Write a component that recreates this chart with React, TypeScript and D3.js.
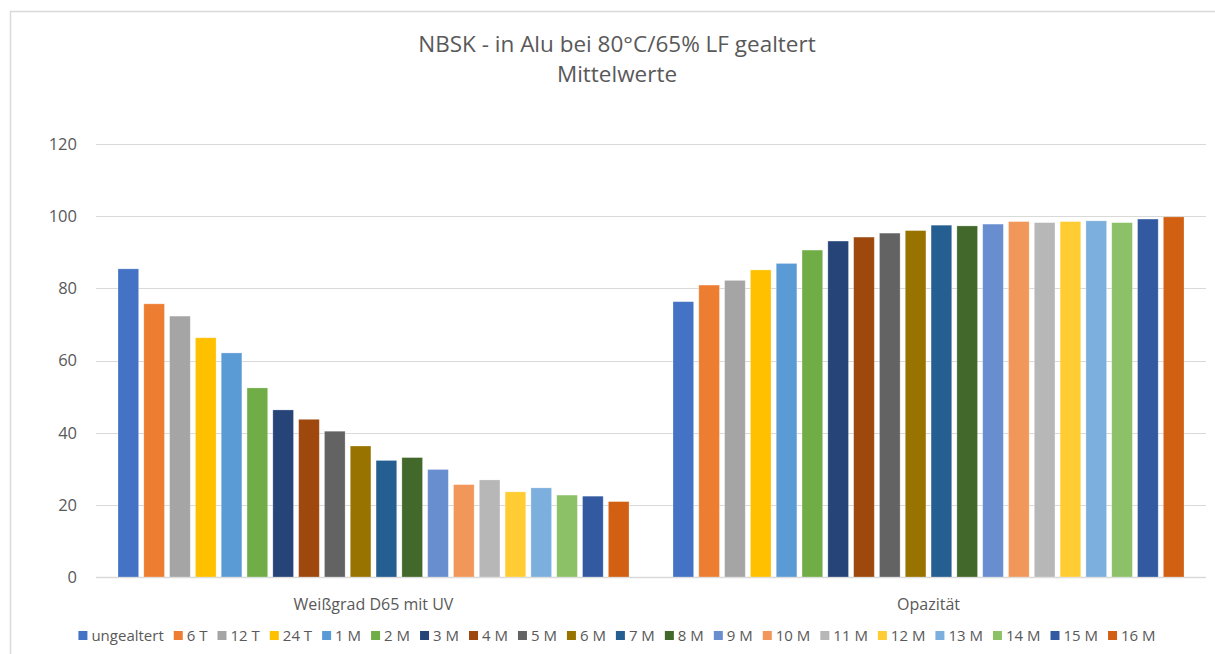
import React from "react";
import * as d3 from "d3";

const categories = ["Weißgrad D65 mit UV", "Opazität"];
const seriesNames = ["ungealtert", "6 T", "12 T", "24 T", "1 M", "2 M", "3 M", "4 M", "5 M", "6 M", "7 M", "8 M", "9 M", "10 M", "11 M", "12 M", "13 M", "14 M", "15 M", "16 M"];
const weissgrad = [85.4, 75.7, 72.3, 66.3, 62.1, 52.4, 46.3, 43.7, 40.4, 36.3, 32.3, 33.1, 29.8, 25.6, 26.9, 23.6, 24.7, 22.7, 22.4, 20.9];
const opazitaet = [76.3, 80.9, 82.2, 85.1, 86.9, 90.6, 93.1, 94.2, 95.3, 96.0, 97.5, 97.3, 97.8, 98.5, 98.2, 98.5, 98.7, 98.2, 99.2, 99.8];
const seriesColors = ["#4472C4", "#ED7D31", "#A5A5A5", "#FFC000", "#5B9BD5", "#70AD47", "#264478", "#9E480E", "#636363", "#997300", "#255E91", "#43682B", "#698ED0", "#F1975A", "#B7B7B7", "#FFCD33", "#7CAFDD", "#8CC168", "#335AA1", "#D26012"];
const yTicks = [0, 20, 40, 60, 80, 100, 120];
const titleLines = ["NBSK - in Alu bei 80°C/65% LF gealtert", "Mittelwerte"];

const FONT = "'Open Sans', sans-serif";
const TEXT = "#595959";
const GRID = "#d9d9d9";

function measure(text: string, size: number): number {
  const c = document.createElement("canvas");
  const ctx = c.getContext("2d");
  if (!ctx) return text.length * size * 0.5;
  ctx.font = `${size}px 'Open Sans'`;
  return ctx.measureText(text).width;
}

export default function App() {
  const W = 1215, H = 654;
  const values = [weissgrad, opazitaet];
  const y = d3.scaleLinear().domain([0, 120]).range([577, 144]);
  const x0 = d3.scaleBand<string>().domain(categories).range([96, 1206]).padding(0);
  const bw0 = x0.bandwidth();
  const x1 = d3.scaleBand<string>().domain(seriesNames).range([22, bw0 - 22]).paddingInner(0.2).paddingOuter(0);

  const legendSize = 15;
  const markerSize = 9;
  const items = seriesNames.map((s) => ({ s, w: markerSize + 4 + measure(s, legendSize) }));
  const itemGap = 10;
  const total = d3.sum(items, (d) => d.w) + itemGap * (items.length - 1);
  const chartCenter = 617;
  let cx = chartCenter - total / 2;
  const legendPos = items.map((it) => {
    const p = cx;
    cx += it.w + itemGap;
    return p;
  });

  return (
    <div style={{ position: "absolute", left: 0, top: 0 }}>
      <svg width={W} height={H} style={{ display: "block", background: "#fff" }}>
        <rect x={10.5} y={11.5} width={W} height={H} fill="#fff" stroke={GRID} strokeWidth={1.5} />
        {titleLines.map((t, i) => (
          <text key={t} x={chartCenter} y={52 + i * 30} textAnchor="middle" fontFamily={FONT} fontSize={22.5} fill={TEXT}>
            {t}
          </text>
        ))}
        {yTicks.map((t) => (
          <g key={t}>
            <line x1={96} x2={1206} y1={Math.round(y(t)) + 0.5} y2={Math.round(y(t)) + 0.5} stroke={GRID} strokeWidth={t === 0 ? 1.5 : 1} />
            <text x={77} y={y(t)} dy="0.36em" textAnchor="end" fontFamily={FONT} fontSize={16.5} fill={TEXT}>
              {t}
            </text>
          </g>
        ))}
        {categories.map((c, ci) => (
          <g key={c} transform={`translate(${x0(c)},0)`}>
            {seriesNames.map((s, si) => (
              <rect
                key={s}
                x={x1(s)}
                y={y(values[ci][si])}
                width={x1.bandwidth()}
                height={y(0) - y(values[ci][si])}
                fill={seriesColors[si]}
                stroke="#fff"
                strokeOpacity={0.35}
                strokeWidth={0.75}
              />
            ))}
            <text x={bw0 / 2} y={610} textAnchor="middle" fontFamily={FONT} fontSize={16} fill={TEXT}>
              {c}
            </text>
          </g>
        ))}
        {items.map((it, i) => (
          <g key={it.s} transform={`translate(${legendPos[i]},0)`}>
            <rect x={0} y={631} width={markerSize} height={markerSize} fill={seriesColors[i]} />
            <text x={markerSize + 4} y={641} fontFamily={FONT} fontSize={legendSize} fill={TEXT}>
              {it.s}
            </text>
          </g>
        ))}
      </svg>
    </div>
  );
}
